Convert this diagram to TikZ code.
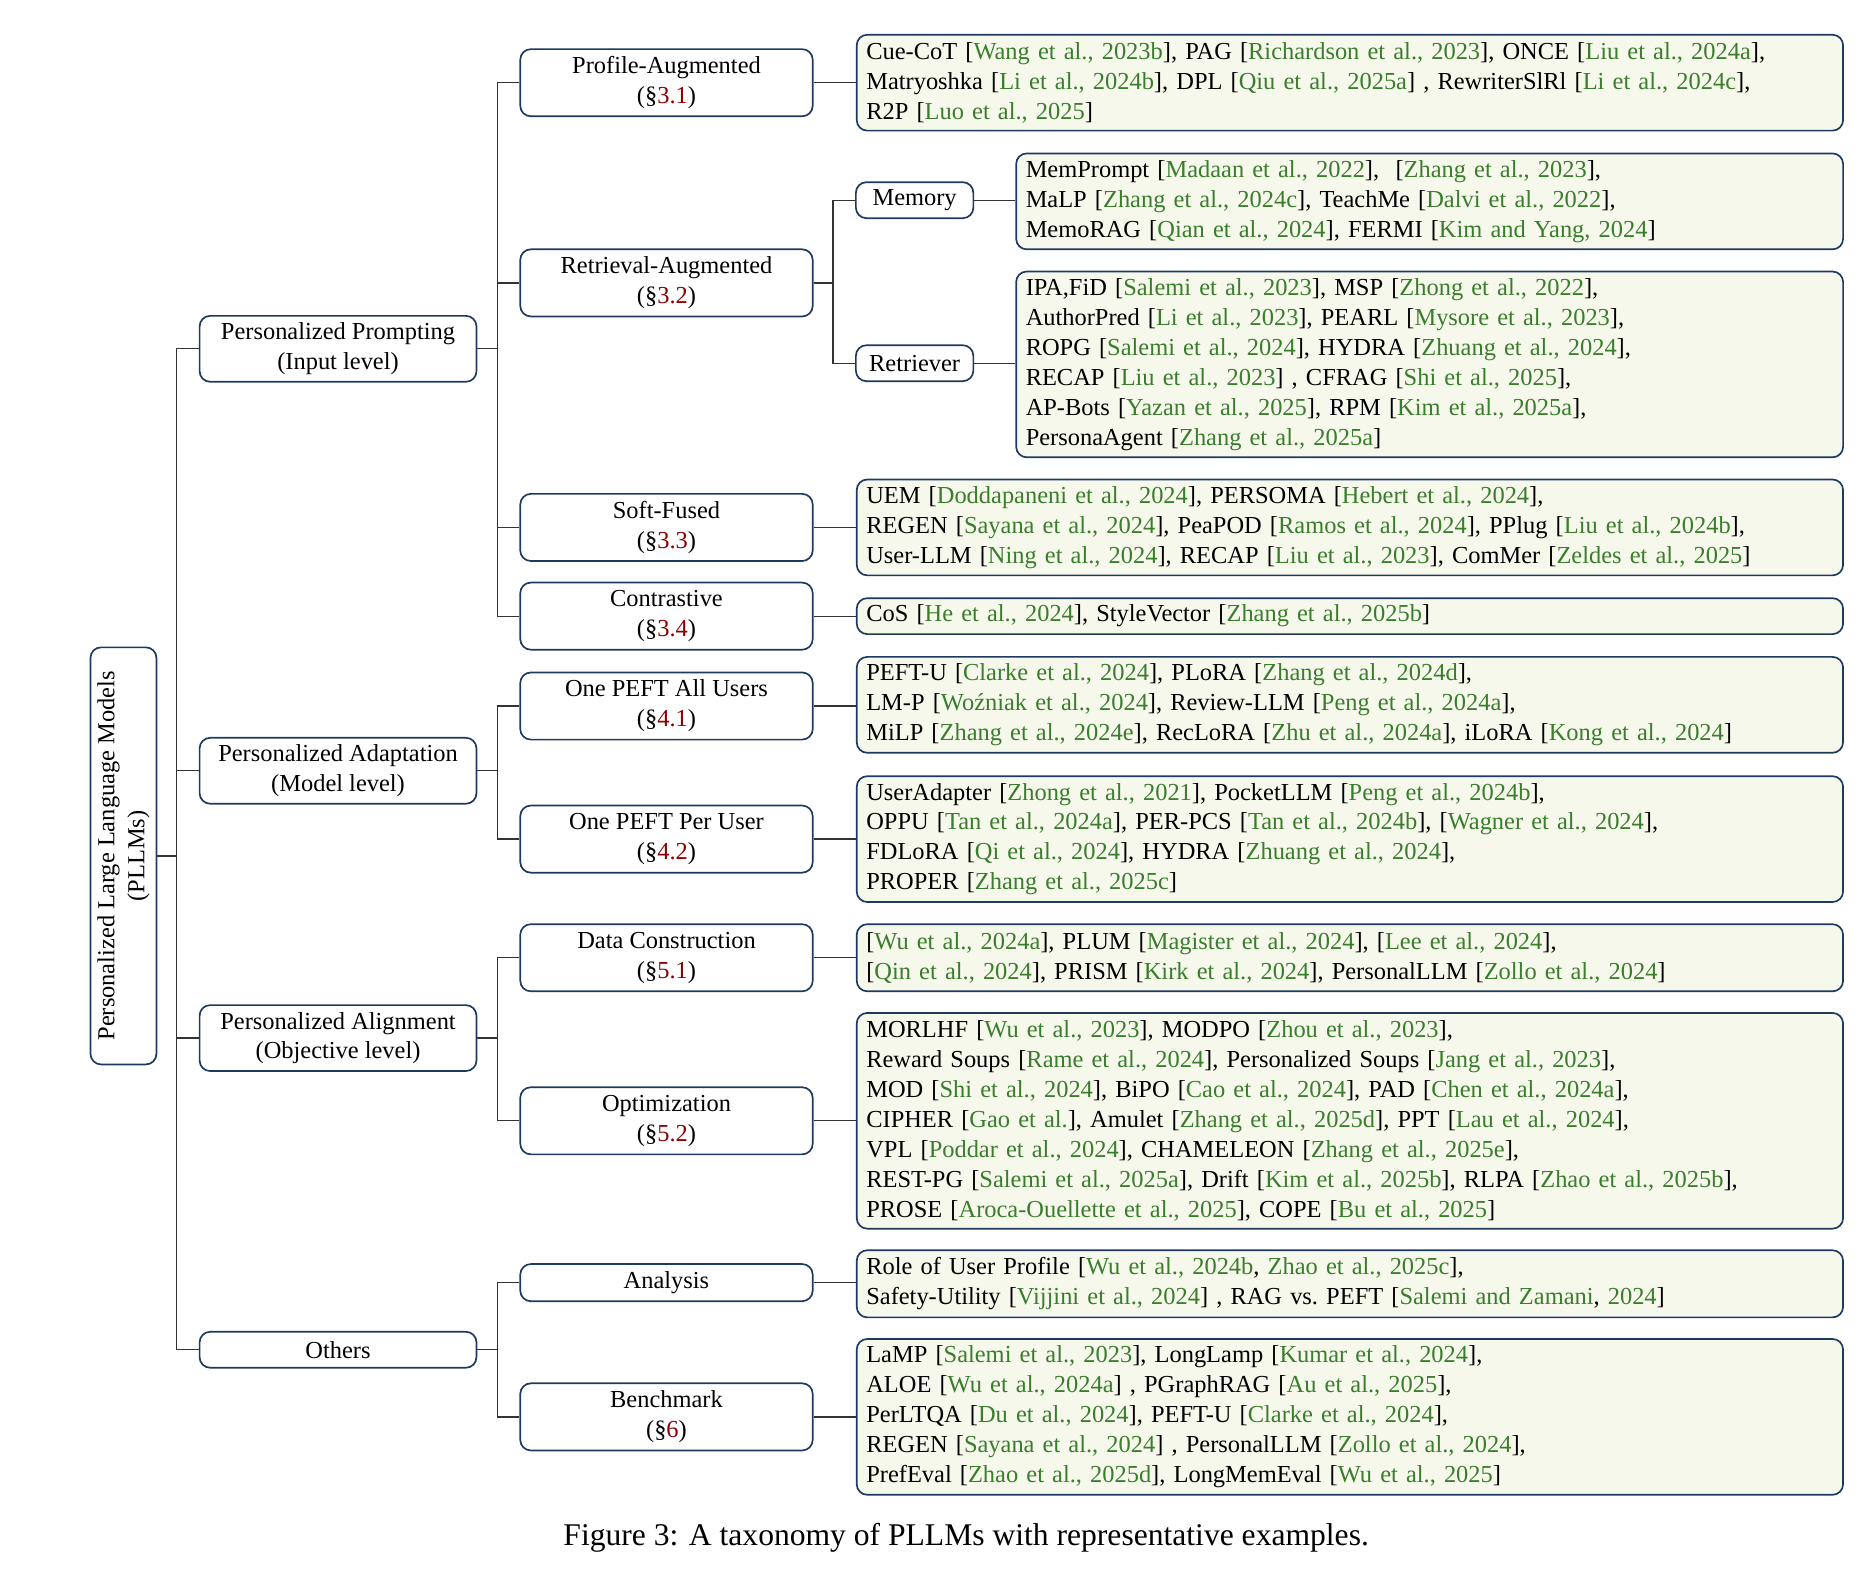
\documentclass[tikz,border=0pt]{standalone}
\usepackage{fontspec}
\setmainfont{Liberation Serif}
\usepackage{xcolor}
\definecolor{boxc}{HTML}{1F3A5F}
\definecolor{leafc}{HTML}{F6F8EC}
\definecolor{citec}{HTML}{3A7D2C}
\definecolor{secc}{HTML}{8B0000}
\newcommand{\ct}[1]{\textcolor{citec}{#1}}
\newcommand{\sr}[1]{(\S\textcolor{secc}{#1})}
\newcommand{\fs}{\fontsize{11.6}{14.2}\selectfont}
\tikzset{
  box/.style={draw=boxc, line width=0.8pt, rounded corners=5pt, align=center, font=\fs, inner sep=1pt},
  lone/.style={box, minimum width=4.62cm, minimum height=1.1cm},
  ltwo/.style={box, minimum width=4.88cm, minimum height=1.12cm},
  lthr/.style={box, minimum width=1.96cm, minimum height=0.6cm},
  leaf/.style={box, fill=leafc, anchor=west, align=left, inner xsep=0.16cm, text width=#1},
  leaf/.default=16.14cm,
  link/.style={draw=black!80, line width=0.6pt},
}
\begin{document}
\begin{tikzpicture}[x=0.02cm,y=-0.02cm]
\useasboundingbox (0,0) rectangle (1560,1311);
\coordinate (busa) at (147,714);
\coordinate (busb) at (415,0);
\coordinate (busc) at (695,236);
% root and first level
\node[box, rotate=90, minimum width=6.96cm, minimum height=1.1cm] (root) at (103,714)
  {Personalized Large Language Models\\(PLLMs)};
\node[lone] (prompt) at (282,291) {Personalized Prompting\\(Input level)};
\node[lone] (adapt) at (282,643) {Personalized Adaptation\\(Model level)};
\node[lone] (align) at (282,866) {Personalized Alignment\\(Objective level)};
\node[lone, minimum height=0.6cm] (others) at (282,1126) {Others};
% second level
\node[ltwo] (prof) at (556,69) {Profile-Augmented\\\sr{3.1}};
\node[ltwo] (retr) at (556,236) {Retrieval-Augmented\\\sr{3.2}};
\node[ltwo] (soft) at (556,440) {Soft-Fused\\\sr{3.3}};
\node[ltwo] (contr) at (556,514) {Contrastive\\\sr{3.4}};
\node[ltwo] (allu) at (556,589) {One PEFT All Users\\\sr{4.1}};
\node[ltwo] (peru) at (556,700) {One PEFT Per User\\\sr{4.2}};
\node[ltwo] (datac) at (556,799) {Data Construction\\\sr{5.1}};
\node[ltwo] (optim) at (556,935) {Optimization\\\sr{5.2}};
\node[ltwo, minimum height=0.62cm] (anal) at (556,1070) {Analysis};
\node[ltwo] (bench) at (556,1182) {Benchmark\\\sr{6}};
\node[lthr] (mem) at (763,167) {Memory};
\node[lthr] (ret) at (763,303) {Retriever};
% leaves
\node[leaf, minimum height=1.6cm] (profl) at (714,69) {Cue-CoT [\ct{Wang et al., 2023b}], PAG [\ct{Richardson et al., 2023}], ONCE [\ct{Liu et al., 2024a}],\\
Matryoshka [\ct{Li et al., 2024b}], DPL [\ct{Qiu et al., 2025a}] , RewriterSlRl [\ct{Li et al., 2024c}],\\
R2P [\ct{Luo et al., 2025}]};
\node[leaf=13.48cm, minimum height=1.6cm] (meml) at (847,168) {MemPrompt [\ct{Madaan et al., 2022}], \ [\ct{Zhang et al., 2023}],\\
MaLP [\ct{Zhang et al., 2024c}], TeachMe [\ct{Dalvi et al., 2022}],\\
MemoRAG [\ct{Qian et al., 2024}], FERMI [\ct{Kim and Yang, 2024}]};
\node[leaf=13.48cm, minimum height=3.1cm] (retl) at (847,304) {IPA,FiD [\ct{Salemi et al., 2023}], MSP [\ct{Zhong et al., 2022}],\\
AuthorPred [\ct{Li et al., 2023}], PEARL [\ct{Mysore et al., 2023}],\\
ROPG [\ct{Salemi et al., 2024}], HYDRA [\ct{Zhuang et al., 2024}],\\
RECAP [\ct{Liu et al., 2023}] , CFRAG [\ct{Shi et al., 2025}],\\
AP-Bots [\ct{Yazan et al., 2025}], RPM [\ct{Kim et al., 2025a}],\\
PersonaAgent [\ct{Zhang et al., 2025a}]};
\node[leaf, minimum height=1.6cm] (softl) at (714,440) {UEM [\ct{Doddapaneni et al., 2024}], PERSOMA [\ct{Hebert et al., 2024}],\\
REGEN [\ct{Sayana et al., 2024}], PeaPOD [\ct{Ramos et al., 2024}], PPlug [\ct{Liu et al., 2024b}],\\
User-LLM [\ct{Ning et al., 2024}], RECAP [\ct{Liu et al., 2023}], ComMer [\ct{Zeldes et al., 2025}]};
\node[leaf, minimum height=0.6cm] (contrl) at (714,514) {CoS [\ct{He et al., 2024}], StyleVector [\ct{Zhang et al., 2025b}]};
\node[leaf, minimum height=1.6cm] (allul) at (714,588) {PEFT-U [\ct{Clarke et al., 2024}], PLoRA [\ct{Zhang et al., 2024d}],\\
LM-P [\ct{Woźniak et al., 2024}], Review-LLM [\ct{Peng et al., 2024a}],\\
MiLP [\ct{Zhang et al., 2024e}], RecLoRA [\ct{Zhu et al., 2024a}], iLoRA [\ct{Kong et al., 2024}]};
\node[leaf, minimum height=2.1cm] (perul) at (714,700) {UserAdapter [\ct{Zhong et al., 2021}], PocketLLM [\ct{Peng et al., 2024b}],\\
OPPU [\ct{Tan et al., 2024a}], PER-PCS [\ct{Tan et al., 2024b}], [\ct{Wagner et al., 2024}],\\
FDLoRA [\ct{Qi et al., 2024}], HYDRA [\ct{Zhuang et al., 2024}],\\
PROPER [\ct{Zhang et al., 2025c}]};
\node[leaf, minimum height=1.12cm] (datacl) at (714,799) {[\ct{Wu et al., 2024a}], PLUM [\ct{Magister et al., 2024}], [\ct{Lee et al., 2024}],\\{}
[\ct{Qin et al., 2024}], PRISM [\ct{Kirk et al., 2024}], PersonalLLM [\ct{Zollo et al., 2024}]};
\node[leaf, minimum height=3.6cm] (optiml) at (714,935) {MORLHF [\ct{Wu et al., 2023}], MODPO [\ct{Zhou et al., 2023}],\\
Reward Soups [\ct{Rame et al., 2024}], Personalized Soups [\ct{Jang et al., 2023}],\\
MOD [\ct{Shi et al., 2024}], BiPO [\ct{Cao et al., 2024}], PAD [\ct{Chen et al., 2024a}],\\
CIPHER [\ct{Gao et al.}], Amulet [\ct{Zhang et al., 2025d}], PPT [\ct{Lau et al., 2024}],\\
VPL [\ct{Poddar et al., 2024}], CHAMELEON [\ct{Zhang et al., 2025e}],\\
REST-PG [\ct{Salemi et al., 2025a}], Drift [\ct{Kim et al., 2025b}], RLPA [\ct{Zhao et al., 2025b}],\\
PROSE [\ct{Aroca-Ouellette et al., 2025}], COPE [\ct{Bu et al., 2025}]};
\node[leaf, minimum height=1.12cm] (anall) at (714,1071) {Role of User Profile [\ct{Wu et al., 2024b}, \ct{Zhao et al., 2025c}],\\
Safety-Utility [\ct{Vijjini et al., 2024}] , RAG vs.\ PEFT [\ct{Salemi and Zamani}, \ct{2024}]};
\node[leaf, minimum height=2.6cm] (benchl) at (714,1182) {LaMP [\ct{Salemi et al., 2023}], LongLamp [\ct{Kumar et al., 2024}],\\
ALOE [\ct{Wu et al., 2024a}] , PGraphRAG [\ct{Au et al., 2025}],\\
PerLTQA [\ct{Du et al., 2024}], PEFT-U [\ct{Clarke et al., 2024}],\\
REGEN [\ct{Sayana et al., 2024}] , PersonalLLM [\ct{Zollo et al., 2024}],\\
PrefEval [\ct{Zhao et al., 2025d}], LongMemEval [\ct{Wu et al., 2025}]};
% tree links
\foreach \c in {prompt,adapt,align,others}
  \draw[link] (root.south) -- (busa) |- (\c.west);
\foreach \p/\c in {prompt/prof,prompt/retr,prompt/soft,prompt/contr,
  adapt/allu,adapt/peru,align/datac,align/optim,others/anal,others/bench}
  \draw[link] (\p.east) -- (\p.east -| busb) |- (\c.west);
\foreach \c in {mem,ret}
  \draw[link] (retr.east) -- (busc) |- (\c.west);
\foreach \c in {prof,soft,contr,allu,peru,datac,optim,anal,bench,mem,ret}
  \draw[link] (\c.east) -- (\c.east -| \c l.west);
% caption
\node[font=\fontsize{15}{18}\selectfont] (cap) at (806,1283) {Figure 3: A taxonomy of PLLMs with representative examples.};
\end{tikzpicture}
\end{document}
